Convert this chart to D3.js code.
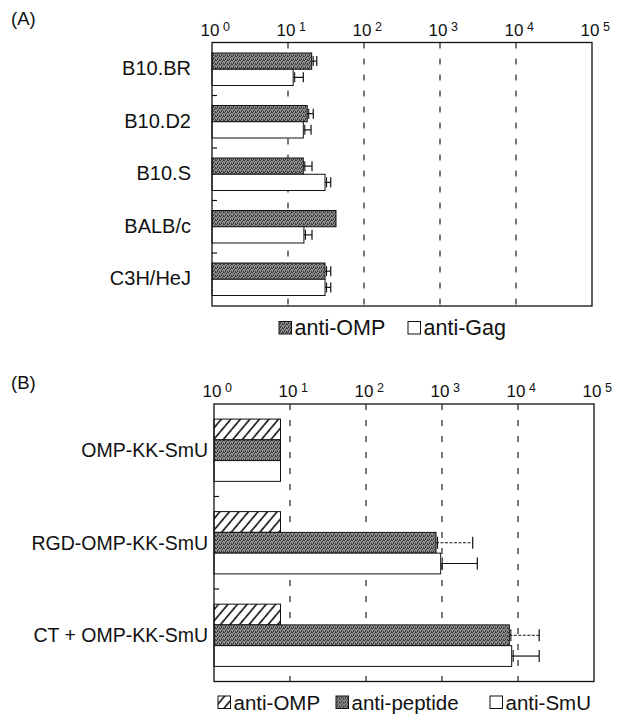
<!DOCTYPE html>
<html>
<head>
<meta charset="utf-8">
<script src="https://cdn.jsdelivr.net/npm/d3@7"></script>
<style>
  body { margin: 0; background: #fff; }
  svg { display: block; }
  text { font-family: "Liberation Sans", Arial, Helvetica, sans-serif; fill: #111; }
</style>
</head>
<body>
<div id="chart"></div>
<script>
// ---- Panel A: antibody titres by mouse strain ----
const strains = ["B10.BR", "B10.D2", "B10.S", "BALB/c", "C3H/HeJ"];
const antiOmpA = [20.5, 17.9, 15.9, 42.8, 30.7];
const antiOmpAUpper = [23.9, 21.5, 20.7, null, 36.5];
const antiGag = [11.7, 15.9, 30.7, 16.2, 30.7];
const antiGagUpper = [15.9, 20.1, 36.5, 20.7, 36.5];

// ---- Panel B: antibody titres by immunogen ----
const immunogens = ["OMP-KK-SmU", "RGD-OMP-KK-SmU", "CT + OMP-KK-SmU"];
const antiOmpB = [7.5, 7.5, 7.5];
const antiPeptide = [7.5, 834, 7690];
const antiPeptideUpper = [null, 2535, 19000];
const antiSmU = [7.5, 961, 8260];
const antiSmUUpper = [null, 2915, 19000];

// Shared log axis
const decades = [1, 10, 100, 1000, 10000, 100000];
const exponents = ["0", "1", "2", "3", "4", "5"];

const W = 630, H = 716;
const svg = d3.select("#chart").append("svg")
  .attr("width", W).attr("height", H)
  .attr("viewBox", `0 0 ${W} ${H}`);
svg.append("rect").attr("width", W).attr("height", H).attr("fill", "#fff");

// Fill patterns: stippled grey, diagonal hatch, plain white
const defs = svg.append("defs");
const stip = defs.append("pattern").attr("id", "stipple")
  .attr("patternUnits", "userSpaceOnUse").attr("width", 4).attr("height", 4);
stip.append("rect").attr("width", 4).attr("height", 4).attr("fill", "#8e8e8e");
[[0,0],[2,1],[1,2],[3,3],[3,0],[1,3]].forEach(([px,py]) =>
  stip.append("rect").attr("x", px).attr("y", py).attr("width", 1).attr("height", 1).attr("fill", "#3a3a3a"));

const hatch = defs.append("pattern").attr("id", "hatch")
  .attr("patternUnits", "userSpaceOnUse").attr("width", 7.3).attr("height", 7.3)
  .attr("patternTransform", "rotate(40)");
hatch.append("rect").attr("width", 7.3).attr("height", 7.3).attr("fill", "#fff");
hatch.append("line").attr("x1", 1).attr("x2", 1).attr("y1", 0).attr("y2", 7.3)
  .attr("stroke", "#111").attr("stroke-width", 1.6);

const FILL_DARK = "url(#stipple)", FILL_HATCH = "url(#hatch)", FILL_WHITE = "#fff";

function drawPanel(cfg) {
  const x = d3.scaleLog().domain([decades[0], decades[decades.length - 1]])
    .range([cfg.left, cfg.right]);
  const y = d3.scaleBand().domain(cfg.cats)
    .range([cfg.top, cfg.bottom])
    .paddingInner(cfg.padInner).paddingOuter(cfg.padOuter);
  const sub = d3.scaleBand().domain(d3.range(cfg.series.length))
    .range([0, y.bandwidth()]);
  const g = svg.append("g");

  // Dashed decade lines
  g.selectAll("line.grid").data(decades.slice(1, -1)).join("line")
    .attr("class", "grid")
    .attr("x1", d => x(d)).attr("x2", d => x(d))
    .attr("y1", cfg.top).attr("y2", cfg.bottom)
    .attr("stroke", "#222").attr("stroke-width", 1.2)
    .attr("stroke-dasharray", "6,10");

  // Bars and error bars
  cfg.series.forEach((s, si) => {
    const rows = s.values.map((v, i) => ({ cat: cfg.cats[i], v, up: s.upper ? s.upper[i] : null }));
    g.selectAll(null).data(rows).join("rect")
      .attr("x", x(decades[0]))
      .attr("y", d => y(d.cat) + sub(si))
      .attr("width", d => x(d.v) - x(decades[0]))
      .attr("height", sub.bandwidth())
      .attr("fill", s.fill)
      .attr("stroke", "#111").attr("stroke-width", 1);

    const errs = rows.filter(d => d.up != null);
    const eg = g.selectAll(null).data(errs).join("g")
      .attr("transform", d => `translate(0,${y(d.cat) + sub(si) + sub.bandwidth() / 2})`);
    eg.append("line")
      .attr("x1", d => x(d.v)).attr("x2", d => x(d.up))
      .attr("stroke", "#111").attr("stroke-width", s.errWidth || 1.2)
      .attr("stroke-dasharray", s.errDash || null);
    eg.append("line")
      .attr("x1", d => x(d.up)).attr("x2", d => x(d.up))
      .attr("y1", -cfg.cap).attr("y2", cfg.cap)
      .attr("stroke", "#111").attr("stroke-width", 1.2);
    eg.append("line")
      .attr("x1", d => x(d.v) + 1.5).attr("x2", d => x(d.v) + 1.5)
      .attr("y1", -cfg.cap).attr("y2", cfg.cap)
      .attr("stroke", "#111").attr("stroke-width", 1.1);
  });

  // Frame
  g.append("rect")
    .attr("x", cfg.left).attr("y", cfg.top)
    .attr("width", cfg.right - cfg.left).attr("height", cfg.bottom - cfg.top)
    .attr("fill", "none").attr("stroke", "#111").attr("stroke-width", 1.3);

  // Small inward ticks between category groups
  const step = y.step();
  const between = cfg.cats.slice(1).map(c => y(c) - (step - y.bandwidth()) / 2);
  g.selectAll("line.sep").data(between).join("line")
    .attr("class", "sep")
    .attr("x1", cfg.left).attr("x2", cfg.left + 5)
    .attr("y1", d => d).attr("y2", d => d)
    .attr("stroke", "#111").attr("stroke-width", 1.2);

  // Power-of-ten labels on top
  const lab = g.selectAll("g.dec").data(decades).join("g").attr("class", "dec");
  lab.append("text")
    .attr("x", d => x(d) - 2).attr("y", cfg.tickY)
    .attr("text-anchor", "middle").attr("font-size", 17)
    .text("10");
  lab.append("text")
    .attr("x", d => x(d) + 11).attr("y", cfg.tickY - 5.5)
    .attr("font-size", 12.5)
    .text((d, i) => exponents[i]);

  // Category labels
  g.selectAll("text.cat").data(cfg.cats).join("text")
    .attr("class", "cat")
    .attr("x", cfg.labelX)
    .attr("y", d => y(d) + y.bandwidth() / 2 + cfg.labelDy)
    .attr("text-anchor", "end").attr("dominant-baseline", "central")
    .attr("font-size", cfg.labelSize)
    .text(d => d);

  // Legend
  const lg = g.selectAll("g.leg").data(cfg.series).join("g").attr("class", "leg")
    .attr("transform", (d, i) => `translate(${cfg.legendX[i]},${cfg.legendY})`);
  lg.append("rect")
    .attr("x", 0).attr("y", -6.5).attr("width", 12.5).attr("height", 12.5)
    .attr("fill", d => d.fill).attr("stroke", "#111").attr("stroke-width", 1);
  lg.append("text")
    .attr("x", 15.5).attr("y", 0)
    .attr("dominant-baseline", "central")
    .attr("font-size", cfg.legendSize)
    .text(d => d.name);

  // Panel tag
  svg.append("text").attr("x", 11).attr("y", cfg.tagY)
    .attr("font-size", 18.5).text(cfg.tag);
}

drawPanel({
  tag: "(A)", tagY: 25,
  cats: strains,
  series: [
    { name: "anti-OMP", values: antiOmpA, upper: antiOmpAUpper, fill: FILL_DARK },
    { name: "anti-Gag", values: antiGag, upper: antiGagUpper, fill: FILL_WHITE }
  ],
  left: 212, right: 592, top: 42.5, bottom: 306,
  padInner: 0.381, padOuter: 0.2,
  cap: 5, tickY: 36,
  labelX: 191, labelDy: -1, labelSize: 20,
  legendX: [279, 408], legendY: 328, legendSize: 21.5
});

drawPanel({
  tag: "(B)", tagY: 389,
  cats: immunogens,
  series: [
    { name: "anti-OMP", values: antiOmpB, upper: null, fill: FILL_HATCH },
    { name: "anti-peptide", values: antiPeptide, upper: antiPeptideUpper, fill: FILL_DARK,
      errDash: "3,1.5", errWidth: 1 },
    { name: "anti-SmU", values: antiSmU, upper: antiSmUUpper, fill: FILL_WHITE }
  ],
  left: 214, right: 594, top: 404, bottom: 681.5,
  padInner: 0.327, padOuter: 0.163,
  cap: 6, tickY: 397,
  labelX: 208, labelDy: 0, labelSize: 19.5,
  legendX: [218, 336, 490], legendY: 702.5, legendSize: 20.5
});
</script>
</body>
</html>
